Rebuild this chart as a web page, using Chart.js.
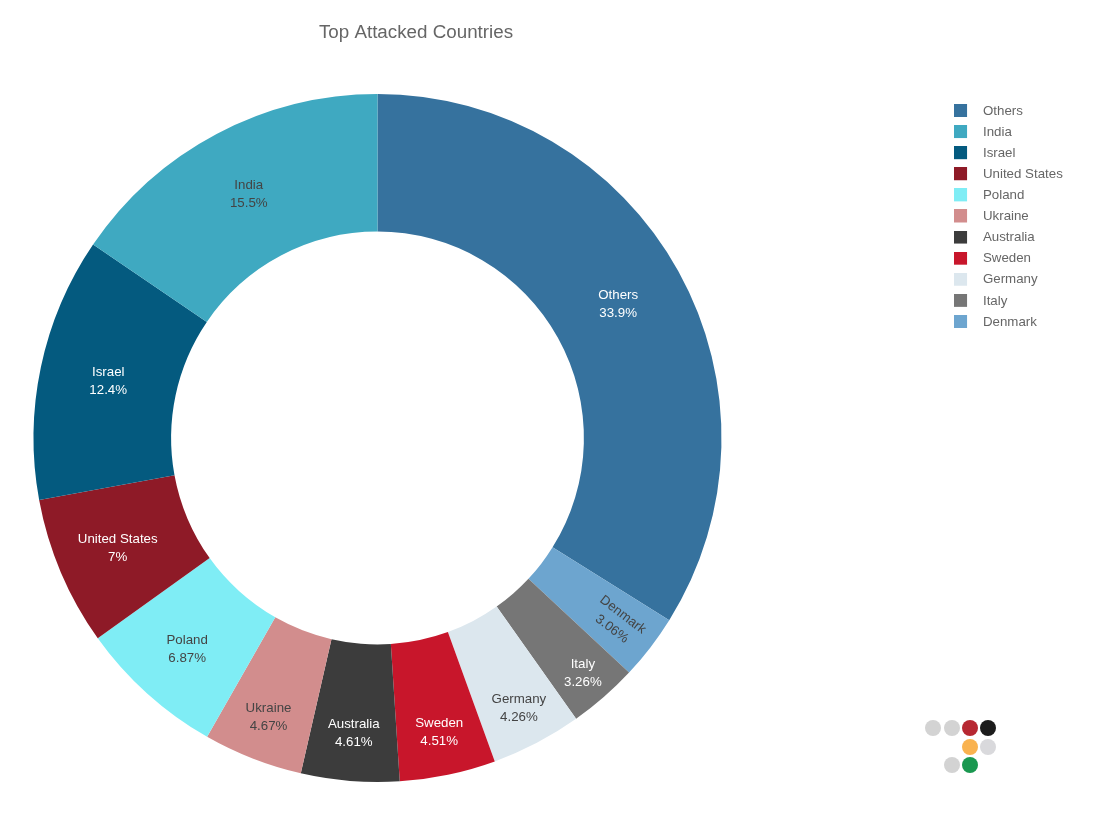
<!DOCTYPE html>
<html>
<head>
<meta charset="utf-8">
<script src="https://cdn.jsdelivr.net/npm/chart.js@4"></script>
<style>
html,body{margin:0;padding:0;background:#fff;}
#wrap{position:relative;width:1100px;height:814px;overflow:hidden;}
canvas{display:block;}
.dot{position:absolute;width:16px;height:16px;border-radius:50%;}
</style>
</head>
<body>
<div id="wrap"><canvas id="c" width="1100" height="814"></canvas></div>
<script>
// Slices in drawing order (clockwise from 12 o'clock)
const categories = ["Others","Denmark","Italy","Germany","Sweden","Australia","Ukraine","Poland","United States","Israel","India"];
const shares = [33.9,3.06,3.26,4.26,4.51,4.61,4.67,6.87,7,12.4,15.5];
const sliceColors = ["#36729E","#6DA5CF","#767676","#DCE7EE","#C8162B","#3C3C3C","#D28D8D","#7FEDF5","#8E1A27","#045A7F","#3FA9C1"];
const chartTitle = "Top Attacked Countries";
const FONT = '"Liberation Sans", Arial, sans-serif';

// Decorative logo dots at the lower right
const logoDots = [[925,720,"#d3d3d3"],[943.5,720,"#d3d3d3"],[962,720,"#b72832"],[980,720,"#1c1c1c"],
                  [962,738.5,"#f9b24f"],[980,738.5,"#d9d9dc"],[943.5,757,"#d3d3d3"],[962,757,"#1a9850"]];
const wrap = document.getElementById('wrap');
logoDots.forEach(([x,y,col])=>{
  const d=document.createElement('div');d.className='dot';
  d.style.left=x+'px';d.style.top=y+'px';d.style.background=col;wrap.appendChild(d);
});

// Outward nudge of each slice label from the ring's middle, in px
const labelNudge = [0,27,37,30,26,21,25,9,7,0,0];

function luminance(hex){
  const n=parseInt(hex.slice(1),16);
  return .2126*(n>>16)+.7152*((n>>8)&255)+.0722*(n&255);
}
function swatch(color){
  const c=document.createElement('canvas');c.width=22;c.height=14;
  const g=c.getContext('2d');g.fillStyle=color;g.fillRect(0,0,13,13);
  return c;
}

const sliceLabels = {
  id:'sliceLabels',
  afterDatasetsDraw(chart){
    const ctx=chart.ctx, meta=chart.getDatasetMeta(0);
    meta.data.forEach((arc,i)=>{
      const p=arc.getCenterPoint();
      const props=arc.getProps(['startAngle','endAngle']);
      const mid=(props.startAngle+props.endAngle)/2;
      ctx.save();
      ctx.translate(p.x+labelNudge[i]*Math.cos(mid),p.y+labelNudge[i]*Math.sin(mid));
      if(shares[i]<3.1) ctx.rotate(mid);
      ctx.font='13.3px '+FONT;
      ctx.textAlign='center';ctx.textBaseline='middle';
      ctx.fillStyle=luminance(sliceColors[i])<130?'#ffffff':'#444444';
      ctx.fillText(categories[i],0,-9);
      ctx.fillText(shares[i]+'%',0,9);
      ctx.restore();
    });
  }
};
const placeBlocks = {
  id:'placeBlocks',
  afterLayout(chart){
    chart.titleBlock.left=0;chart.titleBlock.right=832;
    const w=chart.legend.width;
    chart.legend.left=946;chart.legend.right=946+w;chart.legend.top=96.5;
  }
};

new Chart(document.getElementById('c'),{
  type:'doughnut',
  data:{labels:categories,datasets:[{data:shares,backgroundColor:sliceColors,borderWidth:0}]},
  plugins:[sliceLabels,placeBlocks],
  options:{
    responsive:false,animation:false,devicePixelRatio:1,events:[],
    cutout:'60%',
    layout:{padding:{left:33.5,right:378.5,top:0,bottom:32}},
    plugins:{
      tooltip:{enabled:false},
      title:{display:true,text:chartTitle,color:'#666666',
        font:{family:FONT,size:18.8,weight:'normal'},padding:{top:21.5,bottom:49.94}},
      legend:{position:'chartArea',align:'start',
        labels:{color:'#666666',font:{family:FONT,size:13.3},usePointStyle:true,pointStyleWidth:22.5,padding:7.8,boxHeight:13,
          generateLabels(chart){
            const items=Chart.overrides.doughnut.plugins.legend.labels.generateLabels(chart);
            items.forEach((it,i)=>{it.pointStyle=swatch(sliceColors[i]);});
            return [items[0],...items.slice(1).reverse()];
          }}}
    }
  }
});
</script>
</body>
</html>
